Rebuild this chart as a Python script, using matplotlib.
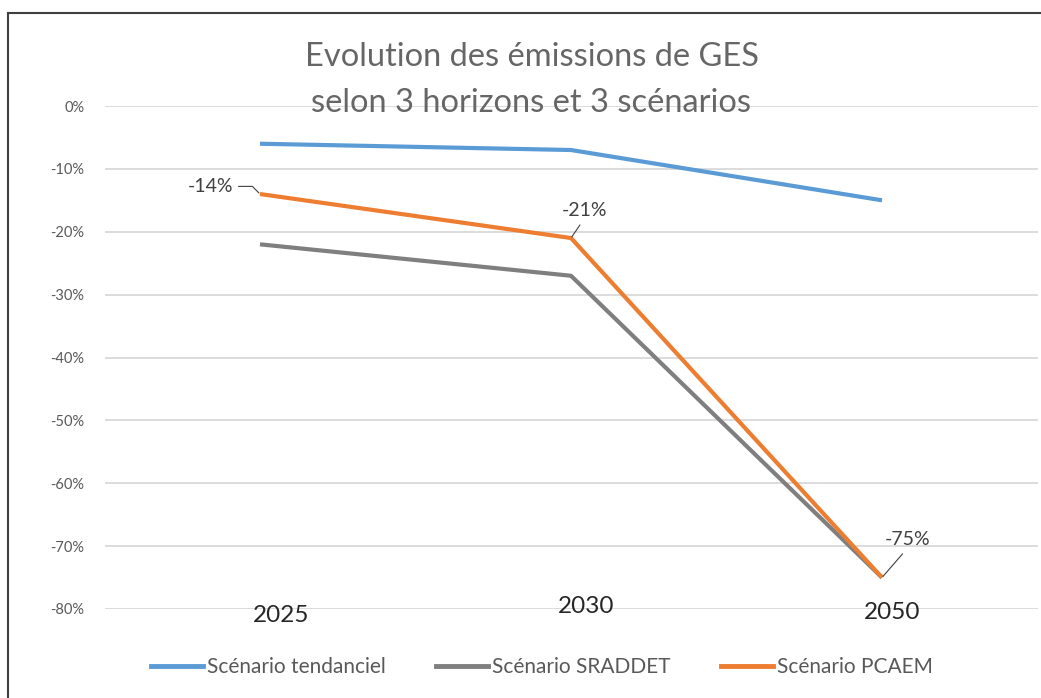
import matplotlib
matplotlib.use("Agg")
import matplotlib.pyplot as plt
from matplotlib.lines import Line2D
from matplotlib.ticker import FuncFormatter

plt.rcParams['font.family'] = ['Lato', 'DejaVu Sans']

# données
years = ["2025", "2030", "2050"]
tendanciel = [-6, -7, -15]
sraddet = [-22, -27, -75]
pcaem = [-14, -21, -75]
series_names = ["Scénario tendanciel", "Scénario SRADDET", "Scénario PCAEM"]
title_lines = ["Evolution des émissions de GES", "selon 3 horizons et 3 scénarios"]
yticks = [0, -10, -20, -30, -40, -50, -60, -70, -80]

colors = ["#5B9BD5", "#7F7F7F", "#ED7D31"]

fig = plt.figure(figsize=(10.41, 6.98), dpi=100)
ax = fig.add_axes([104.5 / 1041, 89 / 698, 933 / 1041, 503 / 698])

x = list(range(len(years)))
for vals, name, c in zip([tendanciel, sraddet, pcaem], series_names, colors):
    ax.plot(x, vals, color=c, lw=3, label=name, solid_capstyle='butt', zorder=3)

ax.set_xlim(-0.5, len(years) - 0.5)
ax.set_ylim(-80, 0)
ax.set_yticks(yticks)
ax.yaxis.set_major_formatter(FuncFormatter(lambda v, p: f"{int(v)}%"))
ax.set_xticks([])
ax.grid(axis='y', color='#D9D9D9', lw=1.3)
ax.set_axisbelow(True)
for s in ax.spines.values():
    s.set_visible(False)
ax.tick_params(axis='y', length=0, pad=14.5, labelsize=10.5, labelcolor='#595959')

# étiquettes des années (déplacées à la main comme dans l'original)
year_offsets = [(15, -5), (11, 2), (7, -2.5)]
for i, (lab, off) in enumerate(zip(years, year_offsets)):
    ax.annotate(lab, (i, 0), xycoords=ax.get_xaxis_transform(),
                xytext=off, textcoords='offset points',
                ha='center', va='center', fontsize=17.5, color='#262626',
                annotation_clip=False)

# étiquettes de données PCAEM
lab_kw = dict(textcoords='offset points', fontsize=14, color='#404040')
ax.annotate(f"{pcaem[0]}%", (0, pcaem[0]), xytext=(-19.5, 5.5), ha='right', va='center',
            arrowprops=dict(arrowstyle='-', color='#404040', lw=0.8, relpos=(1, 0.5),
                            connectionstyle='angle,angleA=0,angleB=-45,rad=0',
                            shrinkA=2, shrinkB=1), **lab_kw)
ax.annotate(f"{pcaem[1]}%", (1, pcaem[1]), xytext=(9.5, 20), ha='center', va='center',
            arrowprops=dict(arrowstyle='-', color='#404040', lw=0.8, relpos=(0.5, 0),
                            shrinkA=3, shrinkB=1), **lab_kw)
ax.annotate(f"{pcaem[2]}%", (2, pcaem[2]), xytext=(18.5, 27.5), ha='center', va='center',
            arrowprops=dict(arrowstyle='-', color='#404040', lw=0.8, relpos=(0.5, 0),
                            shrinkA=3, shrinkB=1), **lab_kw)

# titre
fig.text(532 / 1041, 1 - 57 / 698, title_lines[0], ha='center', va='center',
         fontsize=23.5, color='#666666')
fig.text(531 / 1041, 1 - 103 / 698, title_lines[1], ha='center', va='center',
         fontsize=23.5, color='#666666')

# légende
handles = [Line2D([], [], color=c, lw=3.5) for c in colors]
fig.legend(handles, series_names, loc='center', bbox_to_anchor=(542 / 1041, 1 - 667 / 698),
           ncol=3, frameon=False, fontsize=15, labelcolor='#595959',
           handlelength=2.5, handletextpad=0.2, columnspacing=2.4)

# cadre (bord haut et gauche visibles)
fig.add_artist(Line2D([8 / 1041, 1], [1 - 13 / 698, 1 - 13 / 698], color='#3F3F3F', lw=1.5,
                      transform=fig.transFigure))
fig.add_artist(Line2D([8 / 1041, 8 / 1041], [0, 1 - 13 / 698], color='#3F3F3F', lw=1.5,
                      transform=fig.transFigure))

fig.savefig("out.png", dpi=100)
